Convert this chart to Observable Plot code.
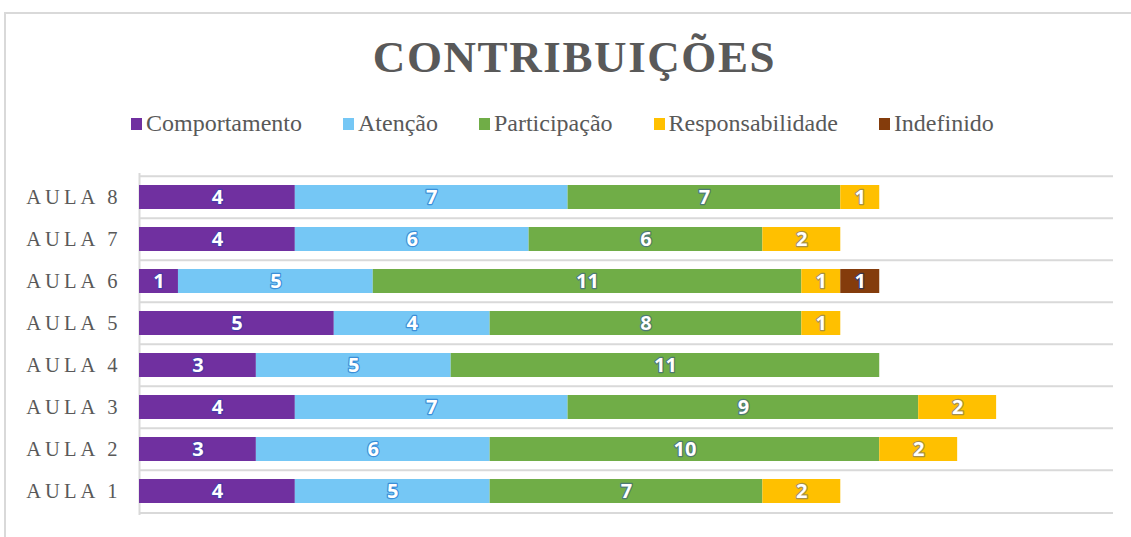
<!DOCTYPE html>
<html>
<head>
<meta charset="utf-8">
<script src="https://cdn.jsdelivr.net/npm/d3@7"></script>
<script src="https://cdn.jsdelivr.net/npm/@observablehq/plot@0.6"></script>
<style>
  html, body { margin: 0; padding: 0; background: #fff; }
  #wrap { position: relative; width: 1131px; height: 537px; overflow: hidden; background: #fff; }
  #frame { position: absolute; left: 4px; top: 12px; width: 1200px; height: 600px; border-left: 2px solid #d9d9d9; border-top: 2px solid #d9d9d9; }
  #title { position: absolute; left: 0; top: 31px; width: 1131px; padding-left: 18px; box-sizing: border-box; text-align: center;
           font-family: "Liberation Serif", "Times New Roman", serif; font-weight: bold; font-size: 45px; letter-spacing: 1.6px; color: #595959; }
  #legend { position: absolute; left: 131px; top: 110px; display: flex; gap: 41px; align-items: center;
            font-family: "Liberation Serif", "Times New Roman", serif; font-size: 24px; color: #595959; }
  .item { display: flex; align-items: center; gap: 4px; }
  .sw { width: 11px; height: 12px; display: inline-block; }
  #chart { position: absolute; left: 0; top: 149px; }
  #chart svg { display: block; }
</style>
</head>
<body>
<div id="wrap">
  <div id="frame"></div>
  <div id="title">CONTRIBUIÇÕES</div>
  <div id="legend"></div>
  <div id="chart"></div>
</div>
<script>
const aulas = ["AULA 8", "AULA 7", "AULA 6", "AULA 5", "AULA 4", "AULA 3", "AULA 2", "AULA 1"];
const series = ["Comportamento", "Atenção", "Participação", "Responsabilidade", "Indefinido"];
const colors = ["#7030a0", "#75c7f5", "#70ad47", "#ffc000", "#843c0c"];
const outline = ["#4a3aa8", "#3b8fd8", "#4d7a72", "#a8904a", "#3a3550"];
const comportamento =    [4, 4, 1, 5, 3, 4, 3, 4];
const atencao =          [7, 6, 5, 4, 5, 7, 6, 5];
const participacao =     [7, 6, 11, 8, 11, 9, 10, 7];
const responsabilidade = [1, 2, 1, 1, 0, 2, 2, 2];
const indefinido =       [0, 0, 1, 0, 0, 0, 0, 0];
const valuesBySeries = [comportamento, atencao, participacao, responsabilidade, indefinido];

const data = [];
aulas.forEach((a, i) => {
  series.forEach((s, j) => {
    const v = valuesBySeries[j][i];
    if (v > 0) data.push({aula: a, serie: s, value: v});
  });
});

const legend = document.getElementById("legend");
series.forEach((s, j) => {
  const it = document.createElement("div");
  it.className = "item";
  it.innerHTML = `<span class="sw" style="background:${colors[j]}"></span><span>${s}</span>`;
  legend.appendChild(it);
});

const H = 388, mT = 24, mB = 22;
const step = (H - mT - mB) / aulas.length;

const textMarks = series.map((s, j) =>
  Plot.text(data, Plot.stackX({
    x: "value", y: "aula", z: "serie",
    text: d => d.serie === s ? String(d.value) : null,
    fill: "white", stroke: outline[j], strokeWidth: 2.4, paintOrder: "stroke",
    fontSize: 20, fontWeight: "bold", fontFamily: "Open Sans, DejaVu Sans, sans-serif"
  }))
);

const chart = Plot.plot({
  width: 1131,
  height: H,
  marginTop: mT,
  marginBottom: mB,
  marginLeft: 139,
  marginRight: 18,
  x: {domain: [0, 25], axis: null},
  y: {domain: aulas, paddingInner: 0.44, paddingOuter: 0.22, axis: null},
  color: {domain: series, range: colors},
  marks: [
    Plot.ruleY(aulas, {y: d => d, dy: -step / 2, stroke: "#d9d9d9", strokeWidth: 2}),
    Plot.ruleY(["AULA 1"], {y: d => d, dy: step / 2, stroke: "#d9d9d9", strokeWidth: 2}),
    Plot.ruleX([0], {stroke: "#d9d9d9", strokeWidth: 2}),
    Plot.barX(data, {x: "value", y: "aula", z: "serie", fill: "serie"}),
    ...textMarks,
    Plot.text(aulas, {y: d => d, text: d => d, frameAnchor: "left", textAnchor: "end", dx: -18,
      fontSize: 20.5, fill: "#595959", fontFamily: "Liberation Serif, Times New Roman, serif"})
  ]
});
chart.querySelectorAll("text").forEach(t => {
  if (t.textContent.startsWith("AULA")) t.setAttribute("letter-spacing", "4");
});
document.getElementById("chart").appendChild(chart);
</script>
</body>
</html>
